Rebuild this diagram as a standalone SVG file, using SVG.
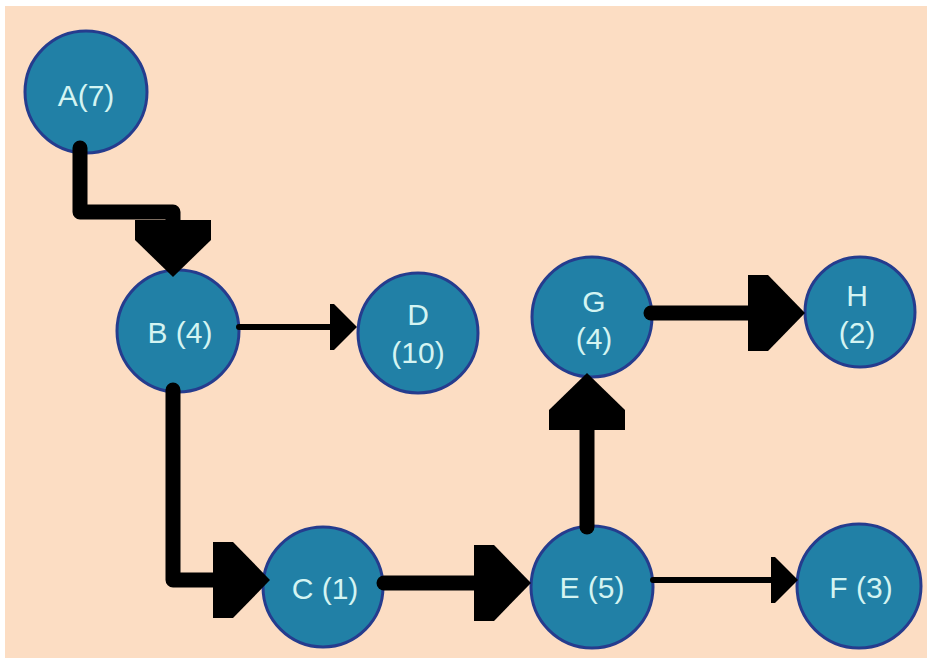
<svg xmlns="http://www.w3.org/2000/svg" width="934" height="664" viewBox="0 0 934 664">
<style>
.node circle { fill: #2180A6; stroke: #253C8E; stroke-width: 3; }
.node text { fill: #D4F4F2; font-family: "Liberation Sans", Arial, sans-serif; font-size: 30px; text-anchor: middle; }
.thick { fill: none; stroke: #000; stroke-width: 15; stroke-linejoin: round; stroke-linecap: round; }
.thin { fill: none; stroke: #000; stroke-width: 6; stroke-linecap: round; }
</style>
<defs>
<marker id="big" markerUnits="userSpaceOnUse" markerWidth="60" markerHeight="80" refX="0" refY="0" orient="auto" overflow="visible">
<path d="M0,-38 L20,-38 L57,0 L20,38 L0,38 Z" fill="#000"/>
</marker>
<marker id="small" markerUnits="userSpaceOnUse" markerWidth="30" markerHeight="50" refX="0" refY="0" orient="auto" overflow="visible">
<path d="M0,-23 L4,-23 L27,0 L4,23 L0,23 Z" fill="#000"/>
</marker>
</defs>
<rect x="0" y="0" width="934" height="664" fill="#FFFFFF"/>
<rect x="5" y="6" width="922" height="652" fill="#FCDDC3"/>
<g id="node-A" class="node"><circle cx="86" cy="92" r="61"/><text x="86" y="106">A(7)</text></g>
<g id="node-B" class="node"><circle cx="178" cy="331" r="61"/><text x="180" y="343">B (4)</text></g>
<g id="node-D" class="node"><circle cx="418" cy="333" r="60"/><text x="418" y="325">D</text><text x="418" y="363">(10)</text></g>
<g id="node-C" class="node"><circle cx="323" cy="587" r="60"/><text x="325" y="599">C (1)</text></g>
<g id="node-G" class="node"><circle cx="592" cy="317" r="60"/><text x="594" y="312">G</text><text x="594" y="349">(4)</text></g>
<g id="node-H" class="node"><circle cx="860" cy="312" r="55"/><text x="857" y="306">H</text><text x="857" y="343">(2)</text></g>
<g id="node-E" class="node"><circle cx="592" cy="587" r="61"/><text x="592" y="598">E (5)</text></g>
<g id="node-F" class="node"><circle cx="859" cy="586" r="62"/><text x="861" y="598">F (3)</text></g>
<g id="connectors">
<path class="thick" d="M80,148 L80,212 L173,212 L173,220" marker-end="url(#big)"/>
<path class="thin" d="M239,327 L330,327" marker-end="url(#small)"/>
<path class="thick" d="M173,390 L173,580 L213,580" marker-end="url(#big)"/>
<path class="thick" d="M384,583 L474,583" marker-end="url(#big)"/>
<path class="thick" d="M587,527 L587,430" marker-end="url(#big)"/>
<path class="thick" d="M651,313 L748,313" marker-end="url(#big)"/>
<path class="thin" d="M653,580 L771,580" marker-end="url(#small)"/>
</g>
</svg>
